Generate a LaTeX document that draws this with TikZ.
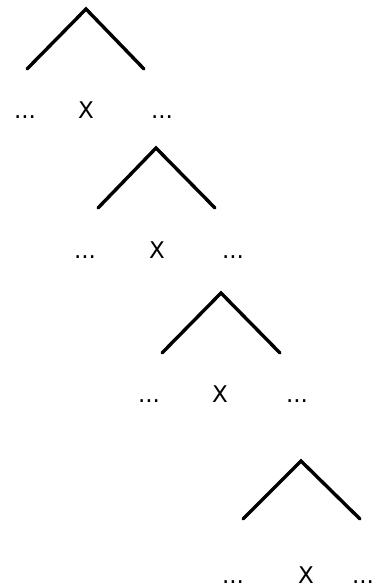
\documentclass[tikz,border=0pt]{standalone}
\usepackage{fontspec}
\setmainfont{DejaVu Sans}
\usepackage{tikz}
\tikzset{
  branch/.style={line width=3.4pt, line cap=round, line join=miter, color=black},
  leaf/.style={anchor=base, inner sep=0pt, font=\fontsize{23}{25}\selectfont}
}

\begin{document}
\begin{tikzpicture}[x=1pt, y=-1pt]
  \useasboundingbox (0,0) rectangle (382,586);
  % Tree 1
  \coordinate (top1) at (86,9);
  \coordinate (lft1) at (27,69);
  \coordinate (rgt1) at (144,69);
  \draw[branch] (lft1) -- (top1) -- (rgt1);
  \node[leaf] (dl1) at (25,118) {...};
  \node[leaf] (x1)  at (86,118) {X};
  \node[leaf] (dr1) at (162,118) {...};
  % Tree 2
  \coordinate (top2) at (156,148);
  \coordinate (lft2) at (98,208);
  \coordinate (rgt2) at (215,208);
  \draw[branch] (lft2) -- (top2) -- (rgt2);
  \node[leaf] (dl2) at (85,258) {...};
  \node[leaf] (x2)  at (157,258) {X};
  \node[leaf] (dr2) at (233,258) {...};
  % Tree 3
  \coordinate (top3) at (221,293);
  \coordinate (lft3) at (162,353);
  \coordinate (rgt3) at (280,353);
  \draw[branch] (lft3) -- (top3) -- (rgt3);
  \node[leaf] (dl3) at (149,402) {...};
  \node[leaf] (x3)  at (220,402) {X};
  \node[leaf] (dr3) at (297,402) {...};
  % Tree 4
  \coordinate (top4) at (301,461);
  \coordinate (lft4) at (243,519);
  \coordinate (rgt4) at (360,519);
  \draw[branch] (lft4) -- (top4) -- (rgt4);
  \node[leaf] (dl4) at (233,583) {...};
  \node[leaf] (x4)  at (306,583) {X};
  \node[leaf] (dr4) at (363,583) {...};
\end{tikzpicture}
\end{document}
